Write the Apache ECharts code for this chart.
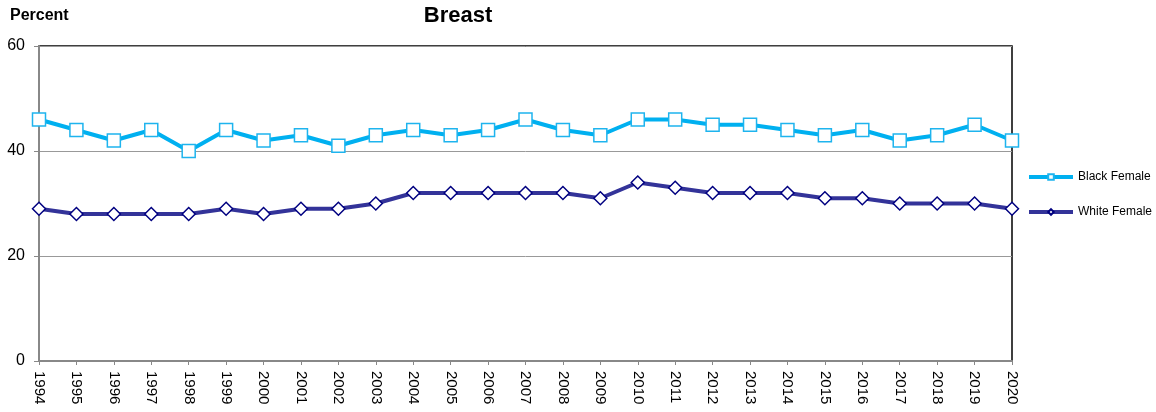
<!DOCTYPE html>
<html><head><meta charset="utf-8">
<script src="https://cdn.jsdelivr.net/npm/echarts@6/dist/echarts.min.js"></script>
<style>html,body{margin:0;padding:0;background:#fff}#c{width:1156px;height:412px}</style>
</head><body><div id="c"></div>
<script>
const years = ['1994','1995','1996','1997','1998','1999','2000','2001','2002','2003','2004','2005','2006','2007','2008','2009','2010','2011','2012','2013','2014','2015','2016','2017','2018','2019','2020'];
const blackFemale = [46,44,42,44,40,44,42,43,41,43,44,43,44,46,44,43,46,46,45,45,44,43,44,42,43,45,42];
const whiteFemale = [29,28,28,28,28,29,28,29,29,30,32,32,32,32,32,31,34,33,32,32,32,31,31,30,30,30,29];
const yTicks = [0,20,40,60];

const chart = echarts.init(document.getElementById('c'));
chart.setOption({
  animation: false,
  textStyle: {fontFamily: 'Liberation Sans, Arial, sans-serif'},
  title: [
    {text: 'Breast', left: 453, top: 0, textAlign: 'center', textStyle: {fontSize: 22, fontWeight: 'bold', color: '#000'}},
    {text: 'Percent', left: 5, top: 3, textStyle: {fontSize: 16, fontWeight: 'bold', color: '#000'}}
  ],
  grid: {left: 39, right: 144, top: 46, bottom: 51, show: true, borderColor: '#000', borderWidth: 1.5, containLabel: false},
  legend: {
    orient: 'vertical', left: 1022, top: 166, itemGap: 23, itemWidth: 44, itemHeight: 7,
    textStyle: {fontSize: 12, color: '#000'},
    data: [
      {name: 'Black Female', lineStyle: {width: 4}},
      {name: 'White Female', lineStyle: {width: 4}}
    ]
  },
  xAxis: {
    type: 'category', data: years, boundaryGap: false,
    axisLine: {lineStyle: {color: '#888', width: 2}},
    axisTick: {show: true, alignWithLabel: true, length: 4, lineStyle: {color: '#888'}},
    axisLabel: {rotate: -90, fontSize: 15, color: '#000', margin: 10, interval: 0}
  },
  yAxis: {
    type: 'value', min: 0, max: 60, interval: 20,
    axisLine: {show: true, lineStyle: {color: '#888', width: 2}},
    axisTick: {show: true, length: 5, lineStyle: {color: '#888'}},
    axisLabel: {fontSize: 16, color: '#000', margin: 14, formatter: v => yTicks.includes(v) ? String(v) : ''},
    splitLine: {lineStyle: {color: '#999', width: 1}}
  },
  series: [
    {
      name: 'Black Female', type: 'line', data: blackFemale,
      symbol: 'rect', symbolSize: 13,
      lineStyle: {color: '#00B0F0', width: 4},
      itemStyle: {color: '#fff', borderColor: '#1EB4EE', borderWidth: 1.5},
      z: 3
    },
    {
      name: 'White Female', type: 'line', data: whiteFemale,
      symbol: 'diamond', symbolSize: 13,
      lineStyle: {color: '#333399', width: 4},
      itemStyle: {color: '#fff', borderColor: '#000080', borderWidth: 1.5},
      z: 3
    }
  ]
});
</script></body></html>
